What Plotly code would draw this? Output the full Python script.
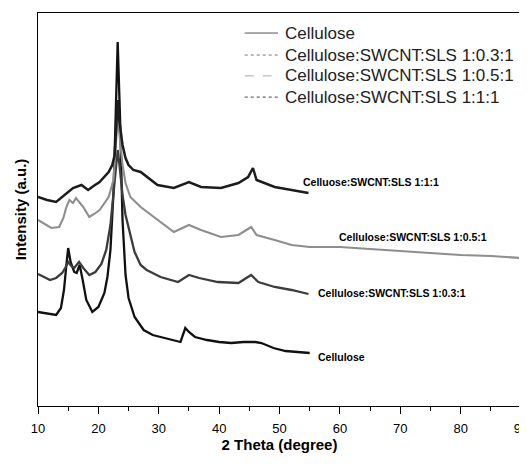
import plotly.graph_objects as go

# 2 theta (degree) and intensity (a.u.)
theta_cel = [10, 11, 12, 13, 13.8, 14.3, 14.7, 15.0, 15.4, 16.0, 16.4, 16.9, 17.4, 18.0, 19.0, 20.0,
             21.0, 21.5, 22.0, 22.5, 22.8, 23.2, 23.6, 24.0, 24.5, 25.0, 26.0, 27.5, 29.0, 31.0,
             33.0, 33.6, 34.4, 35.0, 36.0, 38.0, 40.0, 42.0, 44.0, 46.0, 47.0, 49.0, 51.0, 53.0, 55.0]
int_cel = [94, 93, 92, 91, 98, 116, 141, 158, 144, 134, 133, 141, 126, 106, 94, 99,
           113, 129, 156, 213, 276, 364, 286, 186, 131, 108, 89, 76, 71, 68,
           65, 64, 78, 74, 69, 66, 64, 63, 64, 64, 63, 58, 55, 54, 53]

theta_03 = [10, 11, 12, 13, 14, 14.5, 15, 15.5, 16, 16.8, 17.5, 18.5, 19.5, 20.5, 21.3, 22.0,
            22.5, 23.0, 23.2, 23.5, 24.0, 24.5, 25.0, 26.0, 27.0, 28.0, 30.3, 33.2, 35.0, 36.7,
            39.8, 43.2, 45.3, 46.5, 49.2, 52.0, 54.8]
int_03 = [132, 129, 126, 128, 133, 138, 144, 140, 138, 144, 138, 131, 134, 142, 156, 181,
          211, 243, 256, 241, 211, 191, 178, 154, 141, 136, 129, 124, 131, 128,
          124, 123, 131, 124, 119, 116, 112]

theta_05 = [10, 11, 12.2, 13.5, 14.2, 14.7, 15.2, 15.8, 16.3, 17.5, 18.5, 19.3, 20.2, 21.7, 22.5,
            22.9, 23.2, 23.6, 24.0, 24.5, 25.3, 27.0, 29.8, 32.5, 35.0, 37.0, 40.3, 43.2, 45.3,
            46.2, 49.2, 52.0, 55.0, 60.0, 65.0, 70.0, 75.0, 80.0, 85.0, 90.0]
int_05 = [186, 182, 178, 179, 188, 199, 206, 203, 208, 199, 189, 192, 196, 209, 226,
          261, 288, 266, 241, 223, 209, 199, 186, 174, 181, 176, 169, 171, 179,
          171, 166, 161, 159, 159, 157, 155, 153, 151, 150, 148]

theta_11 = [10, 11.5, 13.0, 14.0, 14.7, 15.8, 17.2, 18.3, 19.2, 20.2, 21.7, 22.3, 22.7, 23.0,
            23.2, 23.5, 24.0, 24.5, 25.0, 25.8, 27.0, 29.8, 32.5, 35.0, 37.0, 40.3, 43.2, 44.8,
            45.6, 46.2, 49.2, 52.0, 54.8]
int_11 = [209, 206, 204, 209, 213, 218, 221, 216, 220, 224, 234, 241, 251, 281,
          306, 284, 261, 248, 241, 236, 234, 221, 218, 224, 219, 218, 223, 229,
          238, 226, 219, 216, 213]

legend_names = ["Cellulose", "Cellulose:SWCNT:SLS 1:0.3:1",
                "Cellulose:SWCNT:SLS 1:0.5:1", "Cellulose:SWCNT:SLS 1:1:1"]
x_ticks = [10, 20, 30, 40, 50, 60, 70, 80, 90]

font = "Liberation Sans, Arial, sans-serif"

fig = go.Figure()

# the measured curves
curves = [
    (theta_cel, int_cel, "#111111", 2.3),
    (theta_03, int_03, "#3c3c3c", 2.3),
    (theta_05, int_05, "#8e8e8e", 2.1),
    (theta_11, int_11, "#1c1c1c", 2.5),
]
for xs, ys, col, w in curves:
    fig.add_trace(go.Scatter(x=xs, y=ys, mode="lines", showlegend=False,
                             line=dict(color=col, width=w)))

# legend drawn by hand so the rows sit where the reference has them
leg_styles = [("#555555", "solid"), ("#777777", "dot"), ("#aaaaaa", "dash"), ("#444444", "dot")]
row_y = [0.949, 0.893, 0.840, 0.786]
for name, (col, dash), ry in zip(legend_names, leg_styles, row_y):
    fig.add_shape(type="line", xref="paper", yref="paper", x0=0.428, x1=0.497, y0=ry, y1=ry,
                  line=dict(color=col, width=1, dash=dash))
    fig.add_annotation(xref="paper", yref="paper", x=0.507, y=ry, text=name, showarrow=False,
                       xanchor="left", yanchor="middle",
                       font=dict(family=font, size=17, color="#222222"))

# curve labels
labels = [
    (53.5, 224, "Celluose:SWCNT:SLS 1:1:1"),
    (59.6, 169, "Cellulose:SWCNT:SLS 1:0.5:1"),
    (56.0, 113, "Cellulose:SWCNT:SLS 1:0.3:1"),
    (56.0, 49, "Cellulose"),
]
for lx, ly, txt in labels:
    fig.add_annotation(x=lx, y=ly, text="<b>" + txt + "</b>", showarrow=False,
                       xanchor="left", yanchor="middle",
                       font=dict(family=font, size=10.5, color="black"))

# page body has an 8px margin, so the figure is 8px smaller each way
fig.update_layout(
    width=519, height=456,
    margin=dict(l=30, r=6, t=5, b=58),
    paper_bgcolor="white", plot_bgcolor="white",
    font=dict(family=font, color="black"),
    showlegend=False,
)
fig.update_xaxes(range=[10, 90], tickvals=x_ticks, ticks="outside", ticklen=7, tickwidth=1.2,
                 tickcolor="black", showline=True, linecolor="black", linewidth=1.3, mirror=True,
                 showgrid=False, zeroline=False, tickfont=dict(size=13), automargin=False,
                 ticklabelstandoff=3, ticklabeloverflow="allow",
                 minor=dict(dtick=5, ticks="outside", ticklen=4, tickwidth=1.2, tickcolor="black", showgrid=False),
                 title=dict(text="<b>2 Theta (degree)</b>", font=dict(size=15), standoff=4))
fig.update_yaxes(range=[0, 393], showticklabels=False, ticks="", showline=True, linecolor="black",
                 linewidth=1.3, mirror=True, showgrid=False, zeroline=False, automargin=False,
                 title=dict(text="<b>Intensity (a.u.)</b>", font=dict(size=15), standoff=6))

fig.write_html("out.html")
